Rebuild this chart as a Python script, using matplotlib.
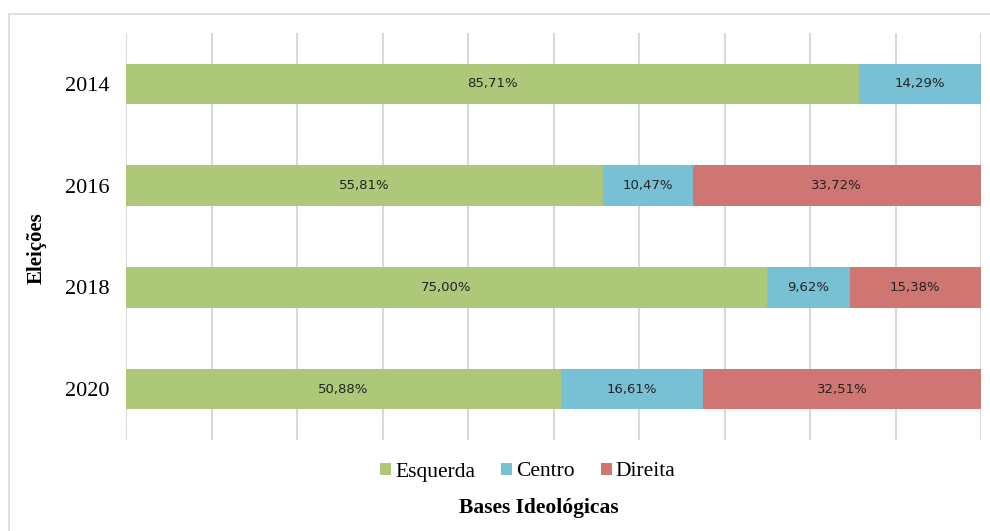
import numpy as np
import matplotlib.pyplot as plt
from matplotlib.patches import Rectangle

# Dados: percentuais por base ideológica em cada eleição
anos = ["2014", "2016", "2018", "2020"]
esquerda = [85.71, 55.81, 75.00, 50.88]
centro = [14.29, 10.47, 9.62, 16.61]
direita = [0.0, 33.72, 15.38, 32.51]

series = [("Esquerda", esquerda, "#adc879"),
          ("Centro", centro, "#78c1d4"),
          ("Direita", direita, "#cf7572")]

plt.rcParams['font.family'] = ['Liberation Serif', 'DejaVu Serif']

fig = plt.figure(figsize=(9.9, 5.31), dpi=100)
ax = fig.add_axes([126/990, 1 - 440/531, 855/990, 407/531])

# moldura cinza clara do gráfico
fig.patches.append(Rectangle((9/990, -0.1), 1.2, 1 - 14/531 + 0.1,
                             transform=fig.transFigure, fill=False,
                             edgecolor="#d9d9d9", linewidth=1.2, zorder=0))

y = np.arange(len(anos))
left = np.zeros(len(anos))
for nome, vals, cor in series:
    vals = np.array(vals)
    bars = ax.barh(y, vals, left=left, height=0.4, color=cor, label=nome, zorder=3)
    for b, v in zip(bars, vals):
        if v > 0:
            ax.text(b.get_x() + b.get_width() / 2, b.get_y() + b.get_height() / 2,
                    f"{v:.2f}%".replace(".", ","), ha="center", va="center",
                    fontsize=9.5, color="#222222", zorder=4, family="DejaVu Sans")
    left += vals

ax.set_xlim(0, 100)
ax.set_ylim(len(anos) - 0.5, -0.5)
ax.set_yticks(y)
ax.set_yticklabels(anos, fontsize=16)
ax.set_xticks(np.arange(0, 101, 10))
ax.set_xticklabels([])
ax.tick_params(length=0, pad=12)
ax.grid(axis="x", color="#d9d9d9", linewidth=1.5, zorder=0)
for s in ax.spines.values():
    s.set_visible(False)

fig.text(37/990, 1 - 248/531, "Eleições", rotation=90, ha="center", va="center",
         fontsize=15, fontweight="bold")
fig.legend(loc="center", bbox_to_anchor=(528/990, 1 - 472/531), ncol=3, frameon=False,
           fontsize=15.5, handlelength=0.5, handleheight=0.5, handletextpad=0.2,
           columnspacing=1.2)
fig.text(539/990, 1 - 508/531, "Bases Ideológicas", ha="center", va="center",
         fontsize=15.5, fontweight="bold")

fig.savefig("out.png", dpi=100)
